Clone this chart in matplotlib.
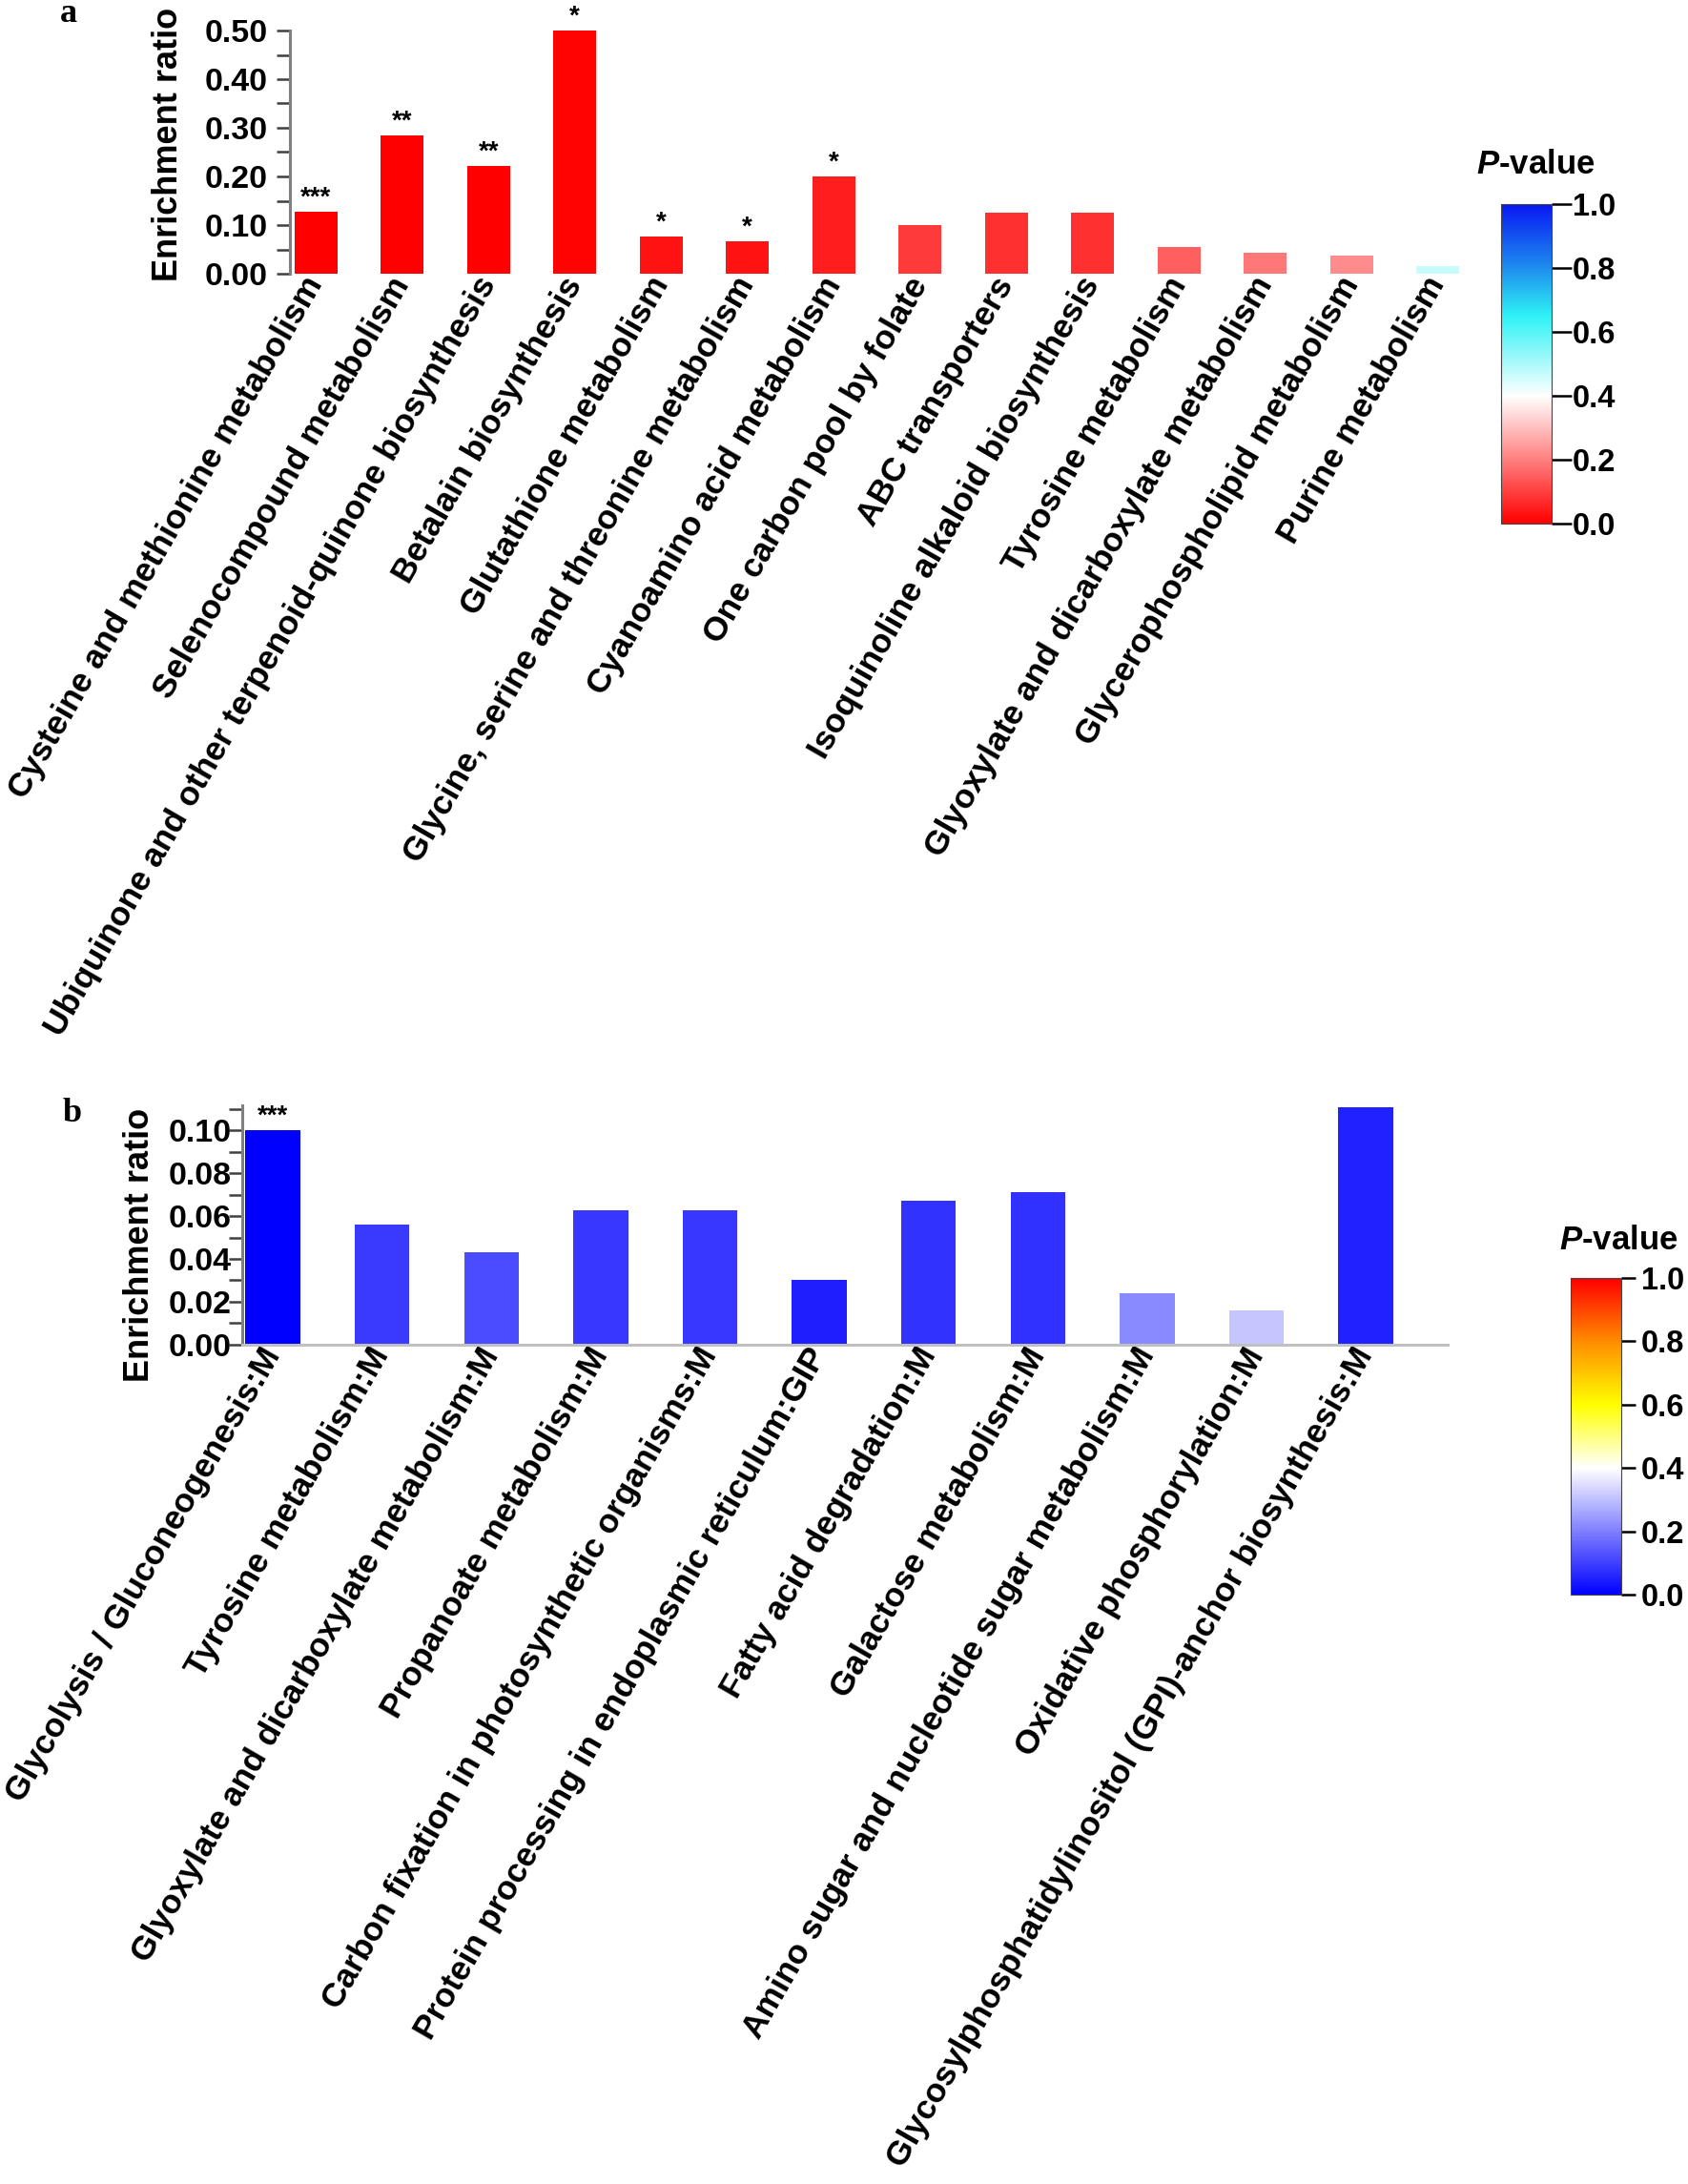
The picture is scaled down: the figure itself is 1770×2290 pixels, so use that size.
import matplotlib
matplotlib.use('Agg')
import matplotlib.pyplot as plt
import matplotlib as mpl
import numpy as np
from matplotlib.colors import LinearSegmentedColormap, Normalize
from matplotlib.ticker import MultipleLocator, FormatStrFormatter

# ---------------- data ----------------
cats_a = ["Cysteine and methionine metabolism", "Selenocompound metabolism",
          "Ubiquinone and other terpenoid-quinone biosynthesis", "Betalain biosynthesis",
          "Glutathione metabolism", "Glycine, serine and threonine metabolism",
          "Cyanoamino acid metabolism", "One carbon pool by folate", "ABC transporters",
          "Isoquinoline alkaloid biosynthesis", "Tyrosine metabolism",
          "Glyoxylate and dicarboxylate metabolism", "Glycerophospholipid metabolism",
          "Purine metabolism"]
ratio_a = [0.128, 0.285, 0.222, 0.500, 0.076, 0.066, 0.200, 0.100, 0.125, 0.125,
           0.055, 0.043, 0.037, 0.015]
pval_a = [0.0, 0.0, 0.0, 0.005, 0.03, 0.03, 0.05, 0.09, 0.075, 0.075, 0.15, 0.19, 0.22, 0.466]
stars_a = ["***", "**", "**", "*", "*", "*", "*", "", "", "", "", "", "", ""]

cats_b = ["Glycolysis / Gluconeogenesis:M", "Tyrosine metabolism:M",
          "Glyoxylate and dicarboxylate metabolism:M", "Propanoate metabolism:M",
          "Carbon fixation in photosynthetic organisms:M",
          "Protein processing in endoplasmic reticulum:GIP", "Fatty acid degradation:M",
          "Galactose metabolism:M", "Amino sugar and nucleotide sugar metabolism:M",
          "Oxidative phosphorylation:M",
          "Glycosylphosphatidylinositol (GPI)-anchor biosynthesis:M"]
ratio_b = [0.100, 0.056, 0.043, 0.0625, 0.0625, 0.030, 0.067, 0.071, 0.024, 0.016, 0.111]
pval_b = [0.0, 0.091, 0.12, 0.088, 0.088, 0.05, 0.08, 0.075, 0.216, 0.31, 0.053]
stars_b = ["***", "", "", "", "", "", "", "", "", "", ""]

cbar_ticks = [0.0, 0.2, 0.4, 0.6, 0.8, 1.0]

# ---------------- style ----------------
plt.rcParams['font.family'] = ['Liberation Sans', 'DejaVu Sans']
plt.rcParams['font.weight'] = 'bold'
plt.rcParams['mathtext.fontset'] = 'custom'
plt.rcParams['mathtext.it'] = 'Liberation Sans:italic:bold'
plt.rcParams['mathtext.rm'] = 'Liberation Sans:bold'

cmap_a = LinearSegmentedColormap.from_list('a', [(0.0, '#FF0000'), (0.4, '#FFFFFF'),
                                                 (0.65, '#2EF2F5'), (0.8, '#1E8EEE'),
                                                 (1.0, '#0818F2')])
cmap_b = LinearSegmentedColormap.from_list('b', [(0.0, '#0000FF'), (0.4, '#FFFFFF'),
                                                 (0.6, '#FFFF00'), (0.8, '#FF8C00'),
                                                 (1.0, '#FF0000')])
norm = Normalize(0, 1)

W, H = 1770, 2290
DPI = 100
fig = plt.figure(figsize=(W / DPI, H / DPI), dpi=DPI)


def rect(x0, y0, x1, y1):
    return [x0 / W, 1 - y1 / H, (x1 - x0) / W, (y1 - y0) / H]


SPINE = '#808080'
TICKC = '#404040'
CAT_FS = 25.5


def style_axes(ax, pad, bottom_visible):
    for s in ['top', 'right']:
        ax.spines[s].set_visible(False)
    ax.spines['left'].set_color(SPINE)
    ax.spines['left'].set_linewidth(2.2)
    ax.spines['bottom'].set_visible(bottom_visible)
    ax.spines['bottom'].set_color('#C0C0C0')
    ax.spines['bottom'].set_linewidth(2.2)
    ax.tick_params(axis='y', which='both', length=10, width=1.8, color=TICKC,
                   labelsize=24.5, pad=pad)
    ax.tick_params(axis='x', length=0, pad=4.3)


def set_cats(ax, x, cats):
    ax.set_xticks(x)
    ax.set_xticklabels(cats, rotation=60, ha='right', va='center',
                       rotation_mode='anchor', fontsize=CAT_FS)


# ---------------- panel a ----------------
ax1 = fig.add_axes(rect(304, 32, 1544, 287))
xa = np.arange(len(cats_a))
ax1.bar(xa, ratio_a, width=0.5, color=[cmap_a(norm(p)) for p in pval_a], linewidth=0)
ax1.set_xlim(-0.3, 13.4)
ax1.set_ylim(0, 0.5)
ax1.yaxis.set_major_locator(MultipleLocator(0.1))
ax1.yaxis.set_minor_locator(MultipleLocator(0.05))
ax1.yaxis.set_major_formatter(FormatStrFormatter('%.2f'))
style_axes(ax1, 7, False)
set_cats(ax1, xa, cats_a)
for i, (v, s) in enumerate(zip(ratio_a, stars_a)):
    if s:
        ax1.annotate(s, (i, v), xytext=(0, 1), textcoords='offset points',
                     ha='center', va='bottom', fontsize=20, fontweight='bold')

# ---------------- panel b ----------------
ax2 = fig.add_axes(rect(254, 1159.5, 1518, 1409.7))
xb = np.arange(len(cats_b))
ax2.bar(xb, ratio_b, width=0.5, color=[cmap_b(norm(p)) for p in pval_b], linewidth=0)
ax2.set_xlim(-0.28, 10.75)
ax2.set_ylim(0, 0.1115)
ax2.yaxis.set_major_locator(MultipleLocator(0.02))
ax2.yaxis.set_minor_locator(MultipleLocator(0.01))
ax2.yaxis.set_major_formatter(FormatStrFormatter('%.2f'))
style_axes(ax2, -2, True)
set_cats(ax2, xb, cats_b)
for i, (v, s) in enumerate(zip(ratio_b, stars_b)):
    if s:
        ax2.annotate(s, (i, v), xytext=(0, 1), textcoords='offset points',
                     ha='center', va='bottom', fontsize=20, fontweight='bold')

# y labels
fig.text(176 / W, 1 - 151 / H, 'Enrichment ratio', rotation=90, ha='center', va='center',
         fontsize=26, fontweight='bold')
fig.text(146 / W, 1 - 1305 / H, 'Enrichment ratio', rotation=90, ha='center', va='center',
         fontsize=26, fontweight='bold')

# panel letters
fig.text(63 / W, 1 - 23 / H, 'a', family='Liberation Serif', fontweight='bold',
         fontsize=26, ha='left', va='baseline')
fig.text(66 / W, 1 - 1176 / H, 'b', family='Liberation Serif', fontweight='bold',
         fontsize=26, ha='left', va='baseline')


# ---------------- colorbars ----------------
def make_cbar(r, cmap, ticklen, pad, title_xy):
    cax = fig.add_axes(rect(*r))
    sm = mpl.cm.ScalarMappable(norm=norm, cmap=cmap)
    cb = fig.colorbar(sm, cax=cax, ticks=cbar_ticks)
    cb.ax.yaxis.set_major_formatter(FormatStrFormatter('%.1f'))
    cb.ax.tick_params(length=ticklen, width=1.8, color='black', labelsize=23.5, pad=pad)
    cb.outline.set_linewidth(0.8)
    cb.outline.set_edgecolor('#444444')
    fig.text(title_xy[0] / W, 1 - title_xy[1] / H, r'$P$-value', ha='center',
             va='center', fontsize=25, fontweight='bold')
    return cb


make_cbar((1574, 214, 1627, 549), cmap_a, 15, 0.5, (1610, 172))
make_cbar((1647, 1340, 1700, 1672), cmap_b, 11, 4, (1697, 1301))

fig.savefig('out.png', dpi=DPI)
